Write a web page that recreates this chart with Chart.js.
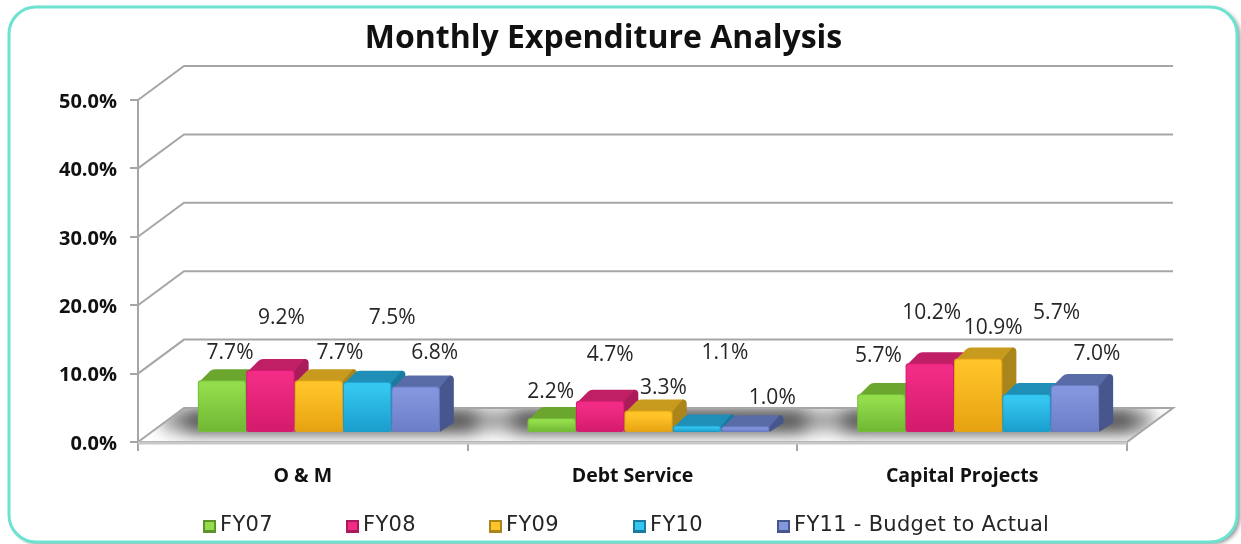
<!DOCTYPE html>
<html><head><meta charset="utf-8">
<style>html,body{margin:0;padding:0;background:#fff}canvas{display:block;filter:blur(.45px)}</style>
<script src="https://cdn.jsdelivr.net/npm/chart.js@4"></script>
</head><body><div style="width:1241px;height:544px"><canvas id="c" width="1241" height="544"></canvas></div>
<script>
const categories = ["O & M", "Debt Service", "Capital Projects"];
const seriesNames = ["FY07", "FY08", "FY09", "FY10", "FY11 - Budget to Actual"];
const fy07 = [7.7, 2.2, 5.7];
const fy08 = [9.2, 4.7, 10.2];
const fy09 = [7.7, 3.3, 10.9];
const fy10 = [7.5, 1.1, 5.7];
const fy11 = [6.8, 1.0, 7.0];
const yTicks = [0, 10, 20, 30, 40, 50];

const palette = [
 {hi:'#93dc4c',lo:'#6fb733',top:'#6ba72f',side:'#5d9429',edge:'#76bd37'},
 {hi:'#f22c86',lo:'#d31a6b',top:'#c01f66',side:'#a91b59',edge:'#d41d70'},
 {hi:'#ffc428',lo:'#e6a211',top:'#c89a1e',side:'#aa851b',edge:'#e0a215'},
 {hi:'#35c6f0',lo:'#1a9dcc',top:'#1f8fb8',side:'#1a7a9f',edge:'#1c9cc8'},
 {hi:'#8496de',lo:'#6a7dc6',top:'#5a6ca8',side:'#47568c',edge:'#6a7cc2'}
];
// label offsets from the top-centre of each bar's front face
const labelDx = [[8,-1,-3],[11,10,2],[21,15,15],[25,28,30],[19,27,22]];
const labelDy = [[-27,-26,-38],[-52,-46,-50],[-27,-22,-30],[-64,-72,-81],[-33,-28,-31]];
const legendX = [203, 346, 489, 633, 777];

const SHIFT_X = 16, SHIFT_Y = -9, DEPTH_X = 14, DEPTH_Y = -11, WALL_X = 46, WALL_Y = -34;

function rr(ctx,x,y,w,h,r){ctx.beginPath();ctx.roundRect(x,y,w,h,r);}

const scene = {
 id:'scene',
 beforeDraw(chart){
  const ctx=chart.ctx; ctx.save();
  ctx.fillStyle='#fff'; ctx.fillRect(0,0,chart.width,chart.height);
  ctx.shadowColor='rgba(60,60,60,.6)';ctx.shadowBlur=4;ctx.shadowOffsetX=3;ctx.shadowOffsetY=2;
  rr(ctx,9,7,1228,535,27);ctx.fillStyle='#fff';ctx.fill();
  ctx.shadowColor='transparent';
  ctx.strokeStyle='#6de3cf';ctx.lineWidth=3;ctx.stroke();
  ctx.restore();
 },
 afterLayout(chart){ if(chart.titleBlock){chart.titleBlock.left=0;chart.titleBlock.right=1207;} },
 beforeDatasetsDraw(chart){
  const ctx=chart.ctx,a=chart.chartArea,y=chart.scales.y;
  ctx.save();
  ctx.strokeStyle='#a6a6a6';ctx.lineWidth=2;
  yTicks.slice(1).forEach(v=>{
    const p=y.getPixelForValue(v);
    ctx.beginPath();ctx.moveTo(a.left,p);ctx.lineTo(a.left+WALL_X,p+WALL_Y);ctx.lineTo(a.right+WALL_X,p+WALL_Y);ctx.stroke();
  });
  const p0=y.getPixelForValue(0);
  const floor=()=>{ctx.beginPath();ctx.moveTo(a.left,p0);ctx.lineTo(a.left+WALL_X,p0+WALL_Y);ctx.lineTo(a.right+WALL_X,p0+WALL_Y);ctx.lineTo(a.right,p0);ctx.closePath();};
  ctx.save();floor();ctx.fillStyle='#fff';ctx.fill();ctx.clip();
  const m0=chart.getDatasetMeta(0).data,mN=chart.getDatasetMeta(chart.data.datasets.length-1).data;
  ctx.shadowColor='rgba(150,150,150,.9)';ctx.shadowBlur=16;ctx.shadowOffsetX=3000;ctx.fillStyle='#000';
  ctx.fillRect(a.left+24-3000,p0+WALL_Y+2,a.right-a.left+2,21);
  m0.forEach((b,i)=>{
    const l=b.x-b.width/2+SHIFT_X-14, r=mN[i].x+mN[i].width/2+SHIFT_X+36;
    ctx.shadowColor='rgba(40,40,40,.72)';ctx.shadowBlur=18;ctx.shadowOffsetX=3000;
    ctx.fillRect(l-3000,p0+WALL_Y+3,r-l,20);
  });
  ctx.restore();
  ctx.shadowColor='transparent';ctx.shadowOffsetX=0;
  floor();ctx.strokeStyle='#a6a6a6';ctx.lineWidth=2;ctx.stroke();
  ctx.beginPath();ctx.moveTo(a.left,p0+1);ctx.lineTo(a.right,p0+1);ctx.strokeStyle='#c8c8c8';ctx.lineWidth=3;ctx.stroke();
  chart.data.datasets.forEach((ds,di)=>{
    const c=palette[di];
    chart.getDatasetMeta(di).data.forEach(b=>{
      const l=b.x-b.width/2+SHIFT_X,r=b.x+b.width/2+SHIFT_X,t=b.y+SHIFT_Y,bt=b.base+SHIFT_Y;
      ctx.fillStyle=c.top;
      ctx.beginPath();ctx.moveTo(l+1,t+2);ctx.lineTo(l+DEPTH_X-2,t+DEPTH_Y+2);ctx.quadraticCurveTo(l+DEPTH_X,t+DEPTH_Y,l+DEPTH_X+3,t+DEPTH_Y);
      ctx.lineTo(r+DEPTH_X-3,t+DEPTH_Y);ctx.lineTo(r,t+2);ctx.closePath();ctx.fill();
      ctx.fillStyle=c.side;
      ctx.beginPath();ctx.moveTo(r-1,t+2);ctx.lineTo(r+DEPTH_X-4,t+DEPTH_Y);ctx.quadraticCurveTo(r+DEPTH_X,t+DEPTH_Y,r+DEPTH_X,t+DEPTH_Y+4);
      ctx.lineTo(r+DEPTH_X,bt+DEPTH_Y+2);ctx.lineTo(r,bt);ctx.closePath();ctx.fill();
      const h=bt-t;
      const g=ctx.createLinearGradient(0,t,0,bt);
      g.addColorStop(0,c.hi);g.addColorStop(Math.min(.25,6/h),c.hi);g.addColorStop(1,c.lo);
      ctx.fillStyle=c.edge;rr(ctx,l,t,r-l,h,3);ctx.fill();
      ctx.fillStyle=g;rr(ctx,l+1,t+1,r-l-2,h-2,3);ctx.fill();
    });
  });
  ctx.restore();
 },
 afterDatasetsDraw(chart){
  const ctx=chart.ctx;ctx.save();
  ctx.font='21px "Open Sans"';ctx.fillStyle='#262626';ctx.textAlign='center';ctx.textBaseline='middle';
  chart.data.datasets.forEach((ds,di)=>{
    chart.getDatasetMeta(di).data.forEach((b,i)=>{
      ctx.fillText(ds.data[i].toFixed(1)+'%',b.x+SHIFT_X+labelDx[di][i],b.y+SHIFT_Y+labelDy[di][i]);
    });
  });
  ctx.textAlign='left';ctx.font='21px "DejaVu Sans"';ctx.letterSpacing='.3px';
  seriesNames.forEach((n,i)=>{
    const c=palette[i],x=legendX[i],yy=526;
    ctx.fillStyle=c.side;ctx.fillRect(x,yy-6,13,13);
    ctx.fillStyle=c.hi;ctx.fillRect(x+2,yy-4,9,8);
    ctx.fillStyle='#262626';ctx.fillText(n,x+17,yy);
  });
  ctx.restore();
 }
};

new Chart(document.getElementById('c'),{
 type:'bar',
 data:{labels:categories,datasets:[fy07,fy08,fy09,fy10,fy11].map((d,i)=>({label:seriesNames[i],data:d,backgroundColor:'transparent',borderWidth:0,barPercentage:1,categoryPercentage:.734}))},
 plugins:[scene],
 options:{
  responsive:false,animation:false,
  layout:{padding:{top:0,right:114,left:0,bottom:0}},
  plugins:{
   legend:{display:false},tooltip:{enabled:false},
   title:{display:true,text:'Monthly Expenditure Analysis',color:'#111',font:{family:'"Open Sans"',size:32,weight:'bold',lineHeight:1.2},padding:{top:20,bottom:41.6}}
  },
  scales:{
   x:{afterFit(s){s.height=102;},grid:{drawOnChartArea:false,drawTicks:true,tickLength:9,color:'#a6a6a6',lineWidth:2},border:{color:'#a6a6a6',width:2},
      ticks:{color:'#111',padding:14,font:{family:'"Open Sans"',size:19.5,weight:'bold'}}},
   y:{min:0,max:50,afterFit(s){s.width=138;},afterBuildTicks(s){s.ticks=yTicks.map(v=>({value:v}));},
      grid:{drawOnChartArea:false,drawTicks:true,tickLength:8,color:'#a6a6a6',lineWidth:2},border:{color:'#a6a6a6',width:2},
      ticks:{color:'#111',padding:13,labelOffset:2,callback:v=>v.toFixed(1)+'%',font:{family:'"Open Sans"',size:20,weight:'bold'}}}
  }
 }
});
</script></body></html>
